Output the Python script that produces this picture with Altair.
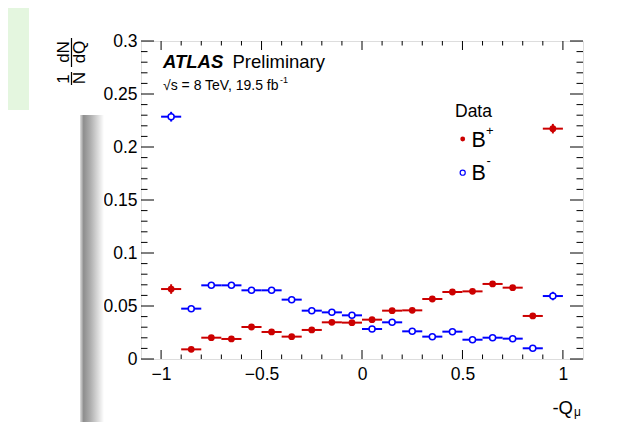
import altair as alt
import pandas as pd

# ---------------- data ----------------
bin_centers = [-0.95, -0.85, -0.75, -0.65, -0.55, -0.45, -0.35, -0.25, -0.15, -0.05,
               0.05, 0.15, 0.25, 0.35, 0.45, 0.55, 0.65, 0.75, 0.85, 0.95]
bin_half_width = 0.05
bplus = [0.0660, 0.0091, 0.0201, 0.0189, 0.0302, 0.0255, 0.0211, 0.0274, 0.0346, 0.0343,
         0.0371, 0.0456, 0.0459, 0.0566, 0.0632, 0.0638, 0.0708, 0.0673, 0.0406, 0.2173]
bplus_err = [0.0045, 0.0012, 0.0014, 0.0013, 0.0017, 0.0015, 0.0014, 0.0016, 0.0018, 0.0018,
             0.0019, 0.0021, 0.0021, 0.0023, 0.0024, 0.0024, 0.0026, 0.0025, 0.0019, 0.0045]
bminus = [0.2286, 0.0475, 0.0695, 0.0695, 0.0648, 0.0648, 0.0560, 0.0456, 0.0440, 0.0412,
          0.0283, 0.0346, 0.0261, 0.0211, 0.0258, 0.0182, 0.0201, 0.0192, 0.0101, 0.0594]
bminus_err = [0.0046, 0.0021, 0.0025, 0.0025, 0.0025, 0.0025, 0.0023, 0.0021, 0.0020, 0.0020,
              0.0016, 0.0018, 0.0016, 0.0014, 0.0016, 0.0013, 0.0014, 0.0013, 0.0010, 0.0040]

x_major = [-1.0, -0.5, 0.0, 0.5, 1.0]
x_minor = [-0.9, -0.8, -0.7, -0.6, -0.4, -0.3, -0.2, -0.1,
           0.1, 0.2, 0.3, 0.4, 0.6, 0.7, 0.8, 0.9]
y_major = [0.0, 0.05, 0.1, 0.15, 0.2, 0.25, 0.3]
y_minor = [0.01, 0.02, 0.03, 0.04, 0.06, 0.07, 0.08, 0.09, 0.11, 0.12, 0.13, 0.14,
           0.16, 0.17, 0.18, 0.19, 0.21, 0.22, 0.23, 0.24, 0.26, 0.27, 0.28, 0.29]

RED = "#cc0000"
BLUE = "#0000ff"
FONT = "Liberation Sans"

W, H = 442, 318


def series_frame(vals, errs):
    return pd.DataFrame({
        "x": bin_centers,
        "lo": [c - bin_half_width for c in bin_centers],
        "hi": [c + bin_half_width for c in bin_centers],
        "v": vals,
        "vlo": [v - e for v, e in zip(vals, errs)],
        "vhi": [v + e for v, e in zip(vals, errs)],
    })


df_p = series_frame(bplus, bplus_err)
df_m = series_frame(bminus, bminus_err)

xs = alt.Scale(domain=[-1.1, 1.1], nice=False, zero=False)
ys = alt.Scale(domain=[0, 0.3], nice=False, zero=False)

xaxis = alt.Axis(values=x_major, title=None, ticks=False, tickSize=0, domain=False, grid=False,
                 labelExpr="format(datum.value, '~g')", labelFont=FONT, labelFontSize=17.5,
                 labelColor="black", labelPadding=6, labelFlush=False, labelOverlap=False)
yaxis = alt.Axis(values=y_major, title=None, ticks=False, tickSize=0, domain=False, grid=False,
                 labelExpr="format(datum.value, '~g')", labelFont=FONT, labelFontSize=17.5,
                 labelColor="black", labelPadding=4, labelFlush=False, labelOverlap=False)


def X(field):
    return alt.X(field, scale=xs, axis=xaxis)


def Y(field):
    return alt.Y(field, scale=ys, axis=yaxis)


layers = []

# --------- background decorations of the screenshot ---------
dummy = pd.DataFrame({"a": [0]})
layers.append(alt.Chart(dummy).mark_rect(color="#e4f6df").encode(
    x=alt.value(-133), x2=alt.value(-112), y=alt.value(-33), y2=alt.value(69)))
layers.append(alt.Chart(dummy).mark_rect(
    color=alt.Gradient(gradient="linear", x1=0, x2=1, y1=0, y2=0,
                       stops=[alt.GradientStop(offset=0, color="#e0e0e0"),
                              alt.GradientStop(offset=0.15, color="#8e8e8e"),
                              alt.GradientStop(offset=0.45, color="#b0b0b0"),
                              alt.GradientStop(offset=1, color="#ffffff")])).encode(
    x=alt.value(-61), x2=alt.value(-37), y=alt.value(74), y2=alt.value(381)))


# --------- tick marks (ROOT style, inside the frame, on all four sides) ---------
def xticks(vals, length):
    d = pd.DataFrame({"t": vals})
    bot = alt.Chart(d).mark_rule(color="black", strokeWidth=1).encode(
        x=X("t:Q"), y=alt.value(H), y2=alt.value(H - length))
    top = alt.Chart(d).mark_rule(color="black", strokeWidth=1).encode(
        x=X("t:Q"), y=alt.value(0), y2=alt.value(length))
    return [bot, top]


def yticks(vals, length):
    d = pd.DataFrame({"t": vals})
    lef = alt.Chart(d).mark_rule(color="black", strokeWidth=1).encode(
        y=Y("t:Q"), x=alt.value(0), x2=alt.value(length))
    rig = alt.Chart(d).mark_rule(color="black", strokeWidth=1).encode(
        y=Y("t:Q"), x=alt.value(W), x2=alt.value(W - length))
    return [lef, rig]


# --------- data layers ---------
def data_layers(df, col, open_marker):
    hb = alt.Chart(df).mark_rule(color=col, strokeWidth=2).encode(
        x=X("lo:Q"), x2="hi:Q", y=Y("v:Q"))
    vb = alt.Chart(df).mark_rule(color=col, strokeWidth=2).encode(
        x=X("x:Q"), y=Y("vlo:Q"), y2="vhi:Q")
    if open_marker:
        pt = alt.Chart(df).mark_point(shape="circle", filled=False, fill="white", fillOpacity=1,
                                      opacity=1, size=36, strokeWidth=1.5, color=col).encode(
            x=X("x:Q"), y=Y("v:Q"))
    else:
        pt = alt.Chart(df).mark_point(shape="circle", filled=True, opacity=1, size=46, color=col).encode(
            x=X("x:Q"), y=Y("v:Q"))
    return [hb, vb, pt]


layers += data_layers(df_p, RED, False)
layers += data_layers(df_m, BLUE, True)
layers += xticks(x_major, 9) + xticks(x_minor, 4.5)
layers += yticks(y_major, 13) + yticks(y_minor, 6.5)


# --------- texts ---------
def text(s, x, y, size, **kw):
    d = pd.DataFrame({"s": [s]})
    return alt.Chart(d).mark_text(font=FONT, fontSize=size, color="black", **kw).encode(
        x=alt.value(x), y=alt.value(y), text="s:N")


label_atlas = "ATLAS"
label_prelim = "Preliminary"
label_energy = "\u221as = 8 TeV, 19.5 fb"
label_lumi_sup = "-1"
legend_title = "Data"
legend_labels = ["B", "B"]
legend_sups = ["+", "-"]

layers.append(text(label_atlas, 22, 27, 18.5, align="left", baseline="alphabetic",
                   fontStyle="italic", fontWeight="bold"))
layers.append(text(label_prelim, 91.5, 27, 18.5, align="left", baseline="alphabetic"))
layers.append(text(label_energy, 22, 49, 14, align="left", baseline="alphabetic"))
layers.append(text(label_lumi_sup, 139, 42, 9, align="left", baseline="alphabetic"))

# legend
layers.append(text(legend_title, 314, 76, 17.5, align="left", baseline="alphabetic"))
layers.append(alt.Chart(dummy).mark_point(shape="circle", filled=True, size=24, color=RED, opacity=1).encode(
    x=alt.value(321.7), y=alt.value(98)))
layers.append(alt.Chart(dummy).mark_point(shape="circle", filled=False, fill="white", size=26,
                                          strokeWidth=1.2, color=BLUE, opacity=1).encode(
    x=alt.value(321.7), y=alt.value(131.7)))
layers.append(text(legend_labels[0], 330.5, 105.7, 21.5, align="left", baseline="alphabetic"))
layers.append(text(legend_sups[0], 345, 94, 13, align="left", baseline="alphabetic"))
layers.append(text(legend_labels[1], 330.5, 139, 21.5, align="left", baseline="alphabetic"))
layers.append(text(legend_sups[1], 345.5, 124, 13, align="left", baseline="alphabetic"))

# axis titles
layers.append(text("-Q", 432, 373, 18.5, align="right", baseline="alphabetic"))
layers.append(text("\u03bc", 433, 375, 12, align="left", baseline="alphabetic"))

# y title: (1/N)(dN/dQ), rotated
layers.append(text("1", -77, 38, 17, align="center", baseline="middle", angle=270))
layers.append(text("N", -61, 37, 17, align="center", baseline="middle", angle=270))
layers.append(text("dN", -77, 11, 17, align="center", baseline="middle", angle=270))
layers.append(text("dQ", -61, 11, 17, align="center", baseline="middle", angle=270))
layers.append(alt.Chart(dummy).mark_rule(color="black", strokeWidth=1.2).encode(
    x=alt.value(-69.5), y=alt.value(31), y2=alt.value(44)))
layers.append(alt.Chart(dummy).mark_rule(color="black", strokeWidth=1.2).encode(
    x=alt.value(-69.5), y=alt.value(-3), y2=alt.value(26)))

chart = alt.layer(*layers).properties(
    width=W, height=H,
    autosize=alt.AutoSizeParams(type="none"),
    padding={"left": 133, "top": 33, "right": 26, "bottom": 63},
).configure_view(stroke="black", strokeWidth=2, fill="white").configure(background="white")

chart.save("out.html", embed_options={"renderer": "svg", "actions": False})
